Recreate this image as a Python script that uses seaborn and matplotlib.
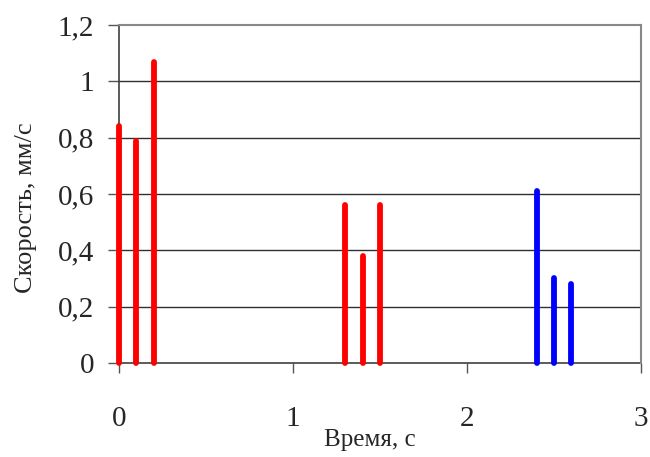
import matplotlib
matplotlib.use("Agg")
import matplotlib.pyplot as plt
import seaborn as sns
import pandas as pd
from matplotlib.ticker import FuncFormatter

# Measured speed pulses: time of each pulse and its peak speed
times = [0.0, 0.1, 0.2, 1.3, 1.4, 1.5, 2.4, 2.5, 2.6]
speeds = [0.84, 0.79, 1.07, 0.56, 0.38, 0.56, 0.61, 0.30, 0.28]
groups = ["a", "a", "a", "a", "a", "a", "b", "b", "b"]
palette = {"a": "#ff0000", "b": "#0000ff"}

x_ticks = [0, 1, 2, 3]
y_ticks = [0, 0.2, 0.4, 0.6, 0.8, 1.0, 1.2]

# Each pulse is a vertical segment from zero up to its peak
rows = []
for i, (t, v, g) in enumerate(zip(times, speeds, groups)):
    rows.append({"t": t, "v": 0.0, "pulse": i, "g": g})
    rows.append({"t": t, "v": v, "pulse": i, "g": g})
df = pd.DataFrame(rows)

sns.set_style("white")
plt.rcParams["font.family"] = ["Liberation Serif", "DejaVu Serif"]

fig = plt.figure(figsize=(6.5, 4.57), dpi=100)
ax = fig.add_axes([0.183, 0.206, 0.803, 0.739])

sns.lineplot(data=df, x="t", y="v", units="pulse", hue="g", estimator=None,
             palette=palette, linewidth=4.2, solid_capstyle="round",
             legend=False, ax=ax, sort=False, zorder=4, clip_on=False)

ax.set_xlim(0, 3)
ax.set_ylim(0, 1.2)
ax.set_xticks(x_ticks)
ax.set_yticks(y_ticks)
fmt = FuncFormatter(lambda v, p: ("%g" % round(v, 2)).replace(".", ","))
ax.xaxis.set_major_formatter(fmt)
ax.yaxis.set_major_formatter(fmt)

for y in y_ticks[1:-1]:
    ax.axhline(y, color="#303030", linewidth=1.0, zorder=1)

for side in ("top", "right"):
    ax.spines[side].set_color("#888888")
    ax.spines[side].set_linewidth(1.5)
for side in ("left", "bottom"):
    ax.spines[side].set_color("#404040")
    ax.spines[side].set_linewidth(1.2)
    ax.spines[side].set_zorder(2)

ax.tick_params(axis="y", direction="out", length=8, width=1.0, color="#555555",
               labelsize=21, pad=10, left=True)
ax.tick_params(axis="x", direction="out", length=7, width=1.0, color="#555555",
               labelsize=21, pad=24, bottom=True)

ax.set_xlabel("Время, с", fontsize=18)
ax.set_ylabel("Скорость, мм/с", fontsize=19)
ax.xaxis.set_label_coords(0.48, -0.197)
ax.yaxis.set_label_coords(-0.157, 0.46)

fig.savefig("out.png", dpi=100)
